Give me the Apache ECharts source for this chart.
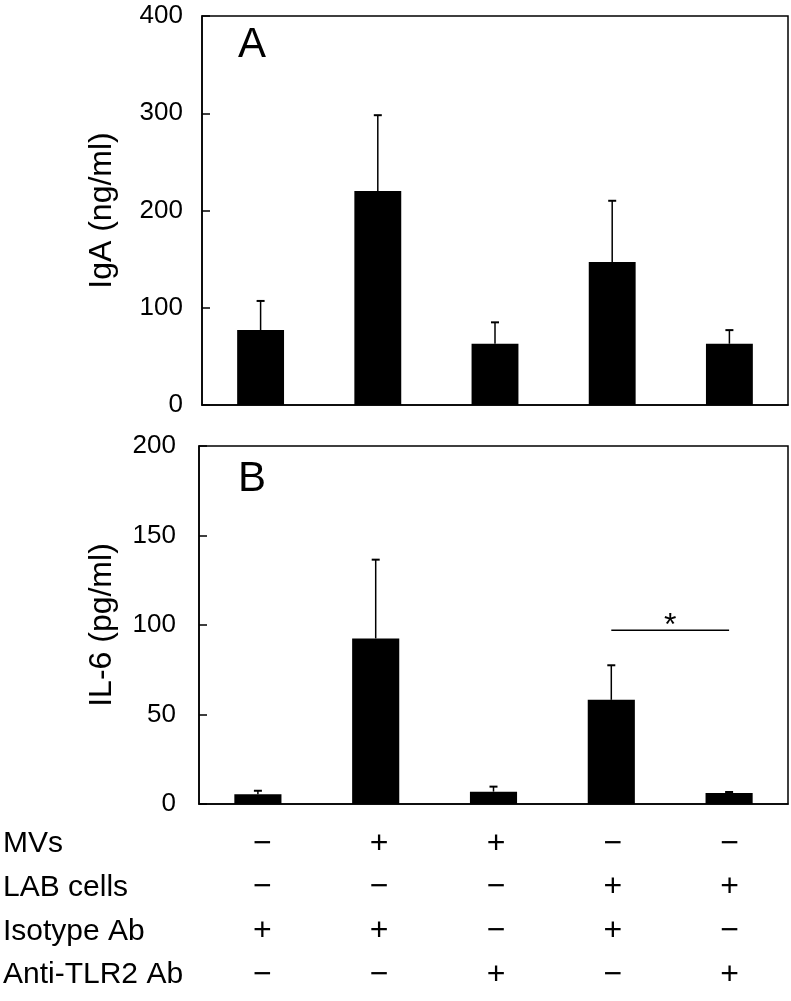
<!DOCTYPE html>
<html>
<head>
<meta charset="utf-8">
<script src="https://cdn.jsdelivr.net/npm/echarts@6/dist/echarts.min.js"></script>
<style>html,body{margin:0;padding:0;background:#fff;}#c{width:791px;height:1001px;}</style>
</head>
<body>
<div id="c"></div>
<script>
// ---- data ----
const groups = ['G1', 'G2', 'G3', 'G4', 'G5'];
const igaMean = [77, 220, 63, 147, 63];
const igaErr = [30, 78, 22, 63, 14];
const il6Mean = [5.4, 92.5, 6.9, 58.2, 6.1];
const il6Err = [2.0, 44, 2.8, 19.3, 0.6];
const igaTicks = { min: 0, max: 400, interval: 100 };
const il6Ticks = { min: 0, max: 200, interval: 50 };
const rowLabels = ['MVs', 'LAB cells', 'Isotype Ab', 'Anti-TLR2 Ab'];
const rowMVs = ['−', '+', '+', '−', '−'];
const rowLAB = ['−', '−', '−', '+', '+'];
const rowIso = ['+', '+', '−', '+', '−'];
const rowAnti = ['−', '−', '+', '−', '+'];
const sigPair = [3, 4];
const sigY = 97;
const sigText = '*';

const FONT = '"Liberation Sans", Arial, sans-serif';

function errData(mean, err) { return mean.map((m, i) => [i, m, err[i]]); }
function errRender(params, api) {
  const b = api.coord([api.value(0), api.value(1)]);
  const t = api.coord([api.value(0), api.value(1) + api.value(2)]);
  return {
    type: 'group', children: [
      { type: 'line', shape: { x1: b[0], y1: b[1], x2: t[0], y2: t[1] }, style: { stroke: '#000', lineWidth: 1.5 } },
      { type: 'line', shape: { x1: t[0] - 4, y1: t[1], x2: t[0] + 4, y2: t[1] }, style: { stroke: '#000', lineWidth: 2 } }
    ]
  };
}
const tableRows = [rowMVs, rowLAB, rowIso, rowAnti];
const tableData = [];
tableRows.forEach((r, ri) => r.forEach((s, ci) => tableData.push([ci, ri, s])));

const chart = echarts.init(document.getElementById('c'), null, { renderer: 'canvas' });
const yCommon = (t, margin, name) => ({
  type: 'value', min: t.min, max: t.max, interval: t.interval,
  name: name, nameLocation: 'middle', nameGap: 84,
  nameTextStyle: { fontSize: 32, color: '#000', fontFamily: FONT },
  axisLine: { show: true, lineStyle: { color: '#000', width: 1.5 } },
  axisTick: { show: true, inside: true, length: 8, lineStyle: { color: '#000', width: 1.5 } },
  axisLabel: { fontSize: 26, color: '#000', margin: margin, fontFamily: FONT },
  splitLine: { show: false }
});
const xCommon = (gi) => ({
  type: 'category', gridIndex: gi, data: groups,
  axisLine: { show: true, lineStyle: { color: '#000', width: 1.5 } },
  axisTick: { show: false }, axisLabel: { show: false }, splitLine: { show: false }
});

chart.setOption({
  animation: false,
  backgroundColor: '#fff',
  textStyle: { fontFamily: FONT },
  title: [
    { text: 'A', left: 238, top: 24, padding: 0, textStyle: { fontSize: 42, fontWeight: 'normal', color: '#000', fontFamily: FONT } },
    { text: 'B', left: 238, top: 458, padding: 0, textStyle: { fontSize: 42, fontWeight: 'normal', color: '#000', fontFamily: FONT } }
  ],
  grid: [
    { left: 202, right: 3, top: 16, height: 389, show: true, borderColor: '#000', borderWidth: 1.5, backgroundColor: 'transparent' },
    { left: 199, right: 3, top: 446, height: 358, show: true, borderColor: '#000', borderWidth: 1.5, backgroundColor: 'transparent' },
    { left: 202, right: 3, top: 822, height: 175 }
  ],
  xAxis: [
    xCommon(0),
    xCommon(1),
    { type: 'category', gridIndex: 2, data: groups, show: false }
  ],
  yAxis: [
    Object.assign(yCommon(igaTicks, 19, 'IgA (ng/ml)'), { gridIndex: 0 }),
    Object.assign(yCommon(il6Ticks, 23, 'IL-6 (pg/ml)'), { gridIndex: 1, nameGap: 81 }),
    {
      type: 'category', gridIndex: 2, data: rowLabels, inverse: true,
      axisLine: { show: false }, axisTick: { show: false }, splitLine: { show: false },
      axisLabel: { align: 'left', margin: 201, fontSize: 30, color: '#000', fontFamily: FONT }
    }
  ],
  series: [
    { type: 'bar', xAxisIndex: 0, yAxisIndex: 0, data: igaMean, barWidth: '40%', itemStyle: { color: '#000' } },
    { type: 'custom', xAxisIndex: 0, yAxisIndex: 0, data: errData(igaMean, igaErr), renderItem: errRender, z: 5 },
    { type: 'bar', xAxisIndex: 1, yAxisIndex: 1, data: il6Mean, barWidth: '40%', itemStyle: { color: '#000' } },
    { type: 'custom', xAxisIndex: 1, yAxisIndex: 1, data: errData(il6Mean, il6Err), renderItem: errRender, z: 5 },
    {
      type: 'custom', xAxisIndex: 1, yAxisIndex: 1, data: [[sigPair[0], sigPair[1], sigY]], z: 6,
      renderItem: function (params, api) {
        const a = api.coord([api.value(0), api.value(2)]);
        const b = api.coord([api.value(1), api.value(2)]);
        return {
          type: 'group', children: [
            { type: 'line', shape: { x1: a[0], y1: a[1], x2: b[0], y2: b[1] }, style: { stroke: '#000', lineWidth: 1.5 } },
            { type: 'text', x: (a[0] + b[0]) / 2, y: a[1] - 4, style: { text: sigText, fontSize: 32, fontFamily: FONT, fill: '#000', align: 'center', verticalAlign: 'middle', textAlign: 'center', textVerticalAlign: 'middle' } }
          ]
        };
      }
    },
    {
      type: 'custom', xAxisIndex: 2, yAxisIndex: 2, data: tableData,
      renderItem: function (params, api) {
        const p = api.coord([api.value(0), api.value(1)]);
        const s = tableData[params.dataIndex][2];
        return { type: 'text', x: p[0], y: p[1], style: { text: s, fontSize: 32, fontFamily: FONT, fill: '#000', align: 'center', verticalAlign: 'middle', textAlign: 'center', textVerticalAlign: 'middle' } };
      }
    }
  ]
});
</script>
</body>
</html>
